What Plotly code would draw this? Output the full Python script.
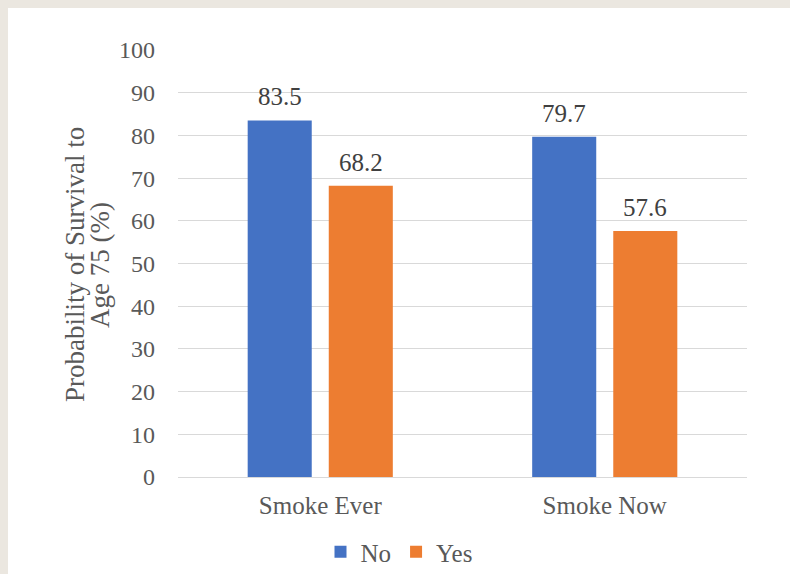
import plotly.graph_objects as go

categories = ["Smoke Ever", "Smoke Now"]
no_values = [83.5, 79.7]
yes_values = [68.2, 57.6]
y_ticks = [0, 10, 20, 30, 40, 50, 60, 70, 80, 90, 100]

W, H = 790, 574
L, R, T, B = 178, 43, 50, 97
pw, ph = W - L - R, H - T - B

BARGAP = 0.43
BARGROUPGAP = 0.21


def px_x(x):
    return (x - L) / pw


def px_y(y):
    return (H - B - y) / ph


font_family = "Liberation Serif"
grey = "#595959"
label_grey = "#404040"

fig = go.Figure()
series = [("No", no_values, "#4472C4"), ("Yes", yes_values, "#ED7D31")]
for name, vals, color in series:
    fig.add_trace(go.Bar(name=name, x=list(range(len(categories))), y=vals,
                         marker_color=color, marker_line_width=0))

# value labels above each bar, centred on the bar's slot in its group
slot = (1 - BARGAP) / len(series)
annotations = []
for k, (name, vals, color) in enumerate(series):
    offset = (k - (len(series) - 1) / 2) * slot
    for i, v in enumerate(vals):
        annotations.append(dict(
            x=i + offset, y=v, xref="x", yref="y", text=f"{v:.1f}",
            showarrow=False, yanchor="bottom", xanchor="center", yshift=8,
            font=dict(size=25, color=label_grey, family=font_family),
        ))

# two-line y-axis title
annotations.append(dict(
    text="Probability of Survival to", xref="paper", yref="paper",
    x=px_x(75), y=px_y(265), textangle=-90, showarrow=False,
    xanchor="center", yanchor="middle",
    font=dict(size=27, color=grey, family=font_family),
))
annotations.append(dict(
    text="Age 75 (%)", xref="paper", yref="paper",
    x=px_x(100), y=px_y(265), textangle=-90, showarrow=False,
    xanchor="center", yanchor="middle",
    font=dict(size=27, color=grey, family=font_family),
))

fig.update_layout(
    width=W, height=H,
    margin=dict(l=L, r=R, t=T, b=B, autoexpand=False),
    paper_bgcolor="#ebe7e0",
    plot_bgcolor="white",
    barmode="group",
    bargap=BARGAP,
    bargroupgap=BARGROUPGAP,
    font=dict(family=font_family, size=25, color=grey),
    showlegend=True,
    legend=dict(
        orientation="h", x=px_x(399), xanchor="center",
        y=px_y(552), yanchor="middle",
        font=dict(size=25, color=grey, family=font_family), itemwidth=30,
        bgcolor="rgba(0,0,0,0)",
    ),
    shapes=[dict(
        type="rect", xref="paper", yref="paper", layer="below",
        x0=px_x(8), x1=px_x(W + 5), y0=px_y(H + 5), y1=px_y(8),
        fillcolor="white", line=dict(width=0),
    )],
    annotations=annotations,
)
fig.update_yaxes(
    range=[0, 100], tickvals=y_ticks, showgrid=True, gridcolor="#d9d9d9",
    gridwidth=1, zeroline=False, showline=False, ticklabelstandoff=22,
    tickfont=dict(size=24, color=grey, family=font_family),
)
fig.update_xaxes(
    range=[-0.5, len(categories) - 0.5],
    tickvals=list(range(len(categories))), ticktext=categories,
    showline=True, linecolor="#d9d9d9", linewidth=1, showgrid=False,
    ticklabelstandoff=6, tickfont=dict(size=25, color=grey, family=font_family),
)

fig.write_html("out.html")
